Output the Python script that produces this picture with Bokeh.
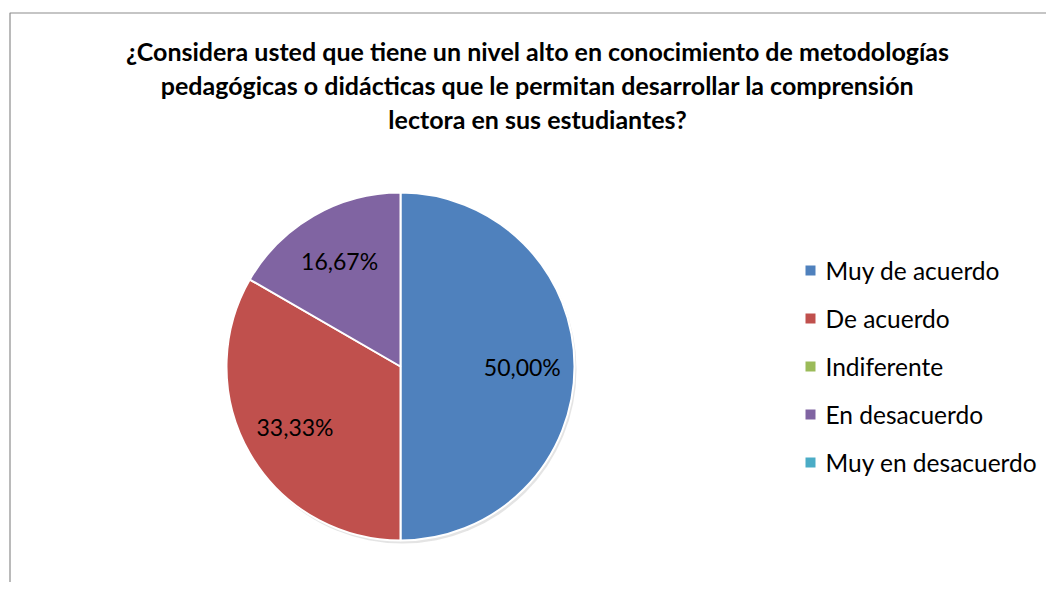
import math
from bokeh.plotting import figure
from bokeh.models import Range1d, ColumnDataSource
from bokeh.core.properties import value
from bokeh.embed import file_html
from bokeh.resources import INLINE

# ---- data ----
categories = ["Muy de acuerdo", "De acuerdo", "Indiferente", "En desacuerdo", "Muy en desacuerdo"]
percentages = [50.00, 33.33, 0.0, 16.67, 0.0]
colors = ["#4F81BD", "#C0504D", "#9BBB59", "#8064A2", "#4BACC6"]
title_lines = [
    "¿Considera usted que tiene un nivel alto en conocimiento de metodologías",
    "pedagógicas o didácticas que le permitan desarrollar la comprensión",
    "lectora en sus estudiantes?",
]

W, H = 1046, 582
FONT = "Lato"

p = figure(width=W, height=H, output_backend="svg", toolbar_location=None,
           x_range=Range1d(0, W), y_range=Range1d(0, H), min_border=0,
           outline_line_color=None)
p.axis.visible = False
p.grid.visible = False
p.background_fill_color = "white"
p.border_fill_color = "white"

# chart border (cropped at right/bottom)
p.line(x=[9.5, 9.5, W + 20], y=[-20, H - 12.5, H - 12.5], line_color="#8c8c8c", line_width=1.2)

# ---- pie ----
cx, cy, R = 400, 216, 174
total = sum(percentages)
starts, ends, mids = [], [], []
a = math.pi / 2
for v in percentages:
    span = 2 * math.pi * v / total
    starts.append(a)
    ends.append(a - span)
    mids.append(a - span / 2)
    a -= span

nz = [i for i, v in enumerate(percentages) if v > 0]
src = ColumnDataSource(dict(
    start=[starts[i] for i in nz], end=[ends[i] for i in nz],
    color=[colors[i] for i in nz],
    x=[cx] * len(nz), y=[cy] * len(nz),
))
# subtle shadow
p.circle(x=[cx + 2], y=[cy - 3], radius=R, fill_color="#d9d9d9", line_color=None, fill_alpha=0.7)
p.wedge(x="x", y="y", radius=R, start_angle="end", end_angle="start",
        fill_color="color", line_color="white", line_width=2, source=src)

lr = 0.70 * R
lab = ColumnDataSource(dict(
    x=[cx + lr * math.cos(mids[i]) for i in nz],
    y=[cy + lr * math.sin(mids[i]) for i in nz],
    t=[f"{percentages[i]:.2f}%".replace(".", ",") for i in nz],
))
p.text(x="x", y="y", text="t", source=lab, text_align="center", text_baseline="middle",
       text_font=value(FONT), text_font_size="23px", text_color="black")

# ---- legend ----
lx, ly0, dy = 810, 312, 48
leg = ColumnDataSource(dict(
    x=[lx] * len(categories),
    y=[ly0 - i * dy for i in range(len(categories))],
    tx=[lx + 15] * len(categories),
    c=colors, t=categories,
))
p.scatter(x="x", y="y", marker="square", size=10, fill_color="c", line_color=None, source=leg)
p.text(x="tx", y="y", text="t", source=leg, text_align="left", text_baseline="middle",
       text_font=value(FONT), text_font_size="24.5px", text_color="black")

# ---- title ----
tsrc = ColumnDataSource(dict(
    x=[537] * 3, y=[532 - i * 34 for i in range(3)], t=title_lines,
))
p.text(x="x", y="y", text="t", source=tsrc, text_align="center", text_baseline="middle",
       text_font=value(FONT), text_font_style="bold", text_font_size="25px", text_color="black")

open("out.html", "w").write(file_html(p, INLINE))
